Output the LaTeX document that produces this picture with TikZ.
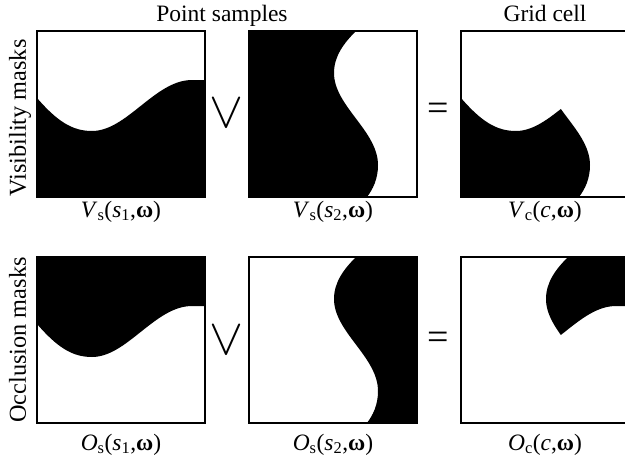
\documentclass[tikz,border=0pt]{standalone}
\usepackage{fontspec}
\setmainfont{Liberation Serif}
\usepackage{graphicx}
\newcommand{\curveA}{(0,67) .. controls (20,90) and (35,100) .. (55,100) .. controls (90,100) and (118,49) .. (155,49) -- (168,49)}
\newcommand{\curveB}{(107,0) .. controls (95,12) and (85,25) .. (85,42) .. controls (85,75) and (129,100) .. (129,134) .. controls (129,148) and (124,158) .. (118,166)}
\newcommand{\omg}{\textbf{ω}}
\begin{document}
\begin{tikzpicture}[x=1pt,y=-1pt,
  every node/.style={inner sep=0pt, font=\fontsize{23.5}{28}\selectfont},
  frame/.style={draw=black, line width=1.5pt},
  ink/.style={fill=black},
  sidelabel/.style={anchor=base, rotate=90, font=\fontsize{24.3}{28}\selectfont},
  caption/.style={anchor=base},
  opsym/.style={inner sep=0pt}]
\fill[white] (0,0) rectangle (625,461);
\clip (0,0) rectangle (625,461);
% ---------- top row: visibility ----------
\begin{scope}[shift={(37,31)}]
  \fill[ink] \curveA -- (168,166) -- (0,166) -- cycle;
  \draw[frame] (0,0) rectangle (168,166);
\end{scope}
\begin{scope}[shift={(249,31)}]
  \fill[ink] \curveB -- (0,166) -- (0,0) -- cycle;
  \draw[frame] (0,0) rectangle (168,166);
\end{scope}
\begin{scope}[shift={(461,31)}]
  \begin{scope}
    \clip \curveB -- (0,166) -- (0,0) -- cycle;
    \fill[ink] \curveA -- (168,166) -- (0,166) -- cycle;
  \end{scope}
  \draw[frame] (0,0) rectangle (168,166);
\end{scope}
% ---------- bottom row: occlusion ----------
\begin{scope}[shift={(37,257)}]
  \fill[ink] \curveA -- (168,0) -- (0,0) -- cycle;
  \draw[frame] (0,0) rectangle (168,166);
\end{scope}
\begin{scope}[shift={(249,257)}]
  \fill[ink] \curveB -- (168,166) -- (168,0) -- cycle;
  \draw[frame] (0,0) rectangle (168,166);
\end{scope}
\begin{scope}[shift={(461,257)}]
  \begin{scope}
    \clip \curveB -- (168,166) -- (168,0) -- cycle;
    \fill[ink] \curveA -- (168,0) -- (0,0) -- cycle;
  \end{scope}
  \draw[frame] (0,0) rectangle (168,166);
\end{scope}
% ---------- texts ----------
\node[caption] (ps) at (222,21) {Point samples};
\node[caption] (gc) at (545,21) {Grid cell};
\node[sidelabel] (vm) at (26,118) {Visibility masks};
\node[sidelabel] (om) at (26,340) {Occlusion masks};
\node[opsym] (or1) at (227,113) {\scalebox{2.05}[2.05]{$\vee$}};
\node[opsym] (or2) at (227,340) {\scalebox{2.05}[2.05]{$\vee$}};
\node[opsym] (eq1) at (438,112) {\fontsize{38}{38}\selectfont =};
\node[opsym] (eq2) at (438,341) {\fontsize{38}{38}\selectfont =};
\node[caption] (l1) at (121,217) {\textit{V}\textsubscript{s}(\textit{s}\textsubscript{1},\omg)};
\node[caption] (l2) at (333,217) {\textit{V}\textsubscript{s}(\textit{s}\textsubscript{2},\omg)};
\node[caption] (l3) at (545,217) {\textit{V}\textsubscript{c}(\textit{c},\omg)};
\node[caption] (l4) at (121,450) {\textit{O}\textsubscript{s}(\textit{s}\textsubscript{1},\omg)};
\node[caption] (l5) at (333,450) {\textit{O}\textsubscript{s}(\textit{s}\textsubscript{2},\omg)};
\node[caption] (l6) at (545,450) {\textit{O}\textsubscript{c}(\textit{c},\omg)};
\end{tikzpicture}
\end{document}
